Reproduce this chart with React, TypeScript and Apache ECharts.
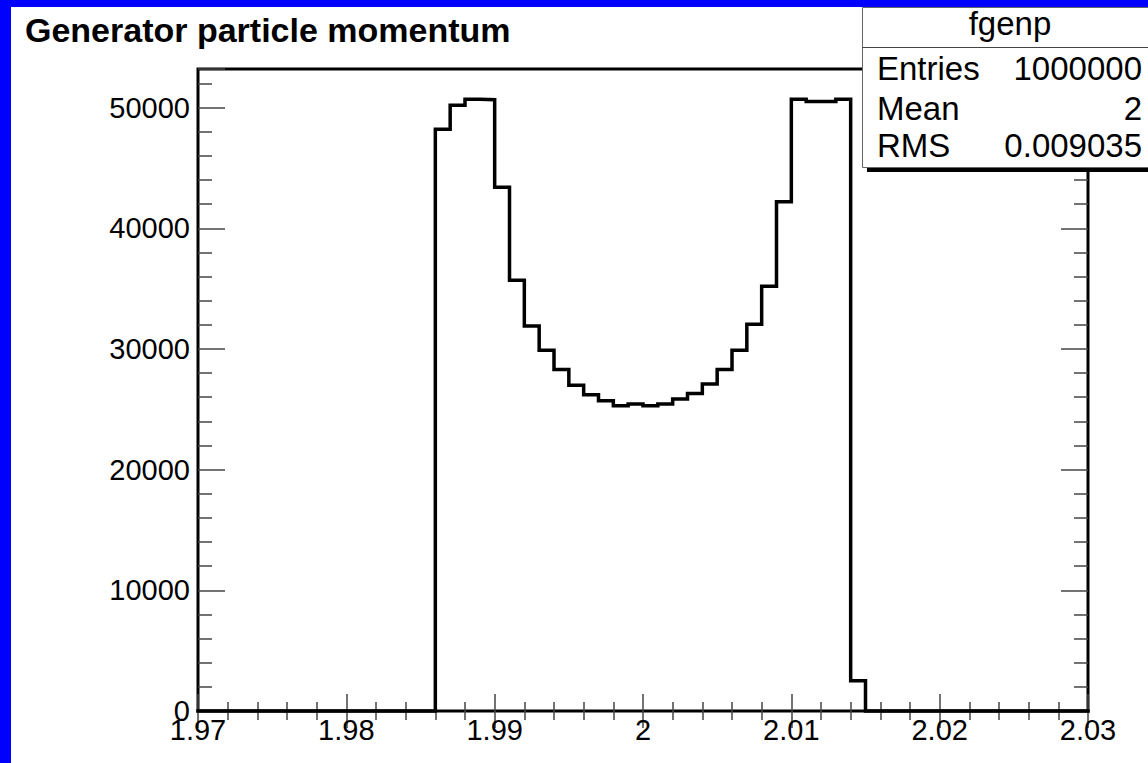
import React, { useEffect, useRef } from "react";
import * as echarts from "echarts";

// ---- data ----
const titleText = "Generator particle momentum";
const histName = "fgenp";
const xMin = 1.97;
const xMax = 2.03;
const binWidth = 0.001;
// 60 bins from 1.970 to 2.030 (entries per bin)
const counts = [
  0, 0, 0, 0, 0, 0, 0, 0, 0, 0,
  0, 0, 0, 0, 0, 0, 48200, 50200, 50700, 50650,
  43400, 35700, 31900, 29900, 28300, 27000, 26200, 25700, 25300, 25450,
  25300, 25450, 25850, 26300, 27100, 28300, 29900, 32050, 35200, 42200,
  50700, 50500, 50500, 50700, 2500, 0, 0, 0, 0, 0,
  0, 0, 0, 0, 0, 0, 0, 0, 0, 0,
];
const yMax = 53200;
const yInterval = 10000;
const xInterval = 0.01;
const statsLabels = ["Entries", "Mean", "RMS"];
const statsValues = ["1000000", "2", "0.009035"];

const FONT = "'Liberation Sans', Arial, sans-serif";

export default function App() {
  const ref = useRef<HTMLDivElement>(null);

  useEffect(() => {
    if (!ref.current) return;
    const chart = echarts.init(ref.current, undefined, { renderer: "svg" });

    const pts: number[][] = counts.map((c, i) => [xMin + i * binWidth, c]);
    pts.push([xMax, 0]);

    const tickStyle = { color: "#444", width: 1.5 };

    const xAxisBase = {
      type: "value",
      min: xMin,
      max: xMax,
      interval: xInterval,
      axisLine: { show: false },
      splitLine: { show: false },
      axisTick: { show: true, inside: true, length: 17, lineStyle: tickStyle },
      minorTick: { show: true, splitNumber: 5, length: 9, lineStyle: tickStyle },
    };
    const yAxisBase = {
      type: "value",
      min: 0,
      max: yMax,
      interval: yInterval,
      axisLine: { show: false },
      splitLine: { show: false },
      axisTick: { show: true, inside: true, length: 27, lineStyle: tickStyle },
      minorTick: { show: true, splitNumber: 5, length: 14, lineStyle: tickStyle },
    };

    const statsRows: any[] = [];
    const rowY = [68.5, 108.5, 145.5];
    statsLabels.forEach((lab, i) => {
      statsRows.push({
        type: "text",
        z: 103,
        x: 877,
        y: rowY[i],
        style: {
          text: lab,
          font: `33px ${FONT}`,
          fill: "#000",
          textAlign: "left",
          textVerticalAlign: "middle",
        },
      });
      statsRows.push({
        type: "text",
        z: 103,
        x: 1142,
        y: rowY[i],
        style: {
          text: statsValues[i],
          font: `33px ${FONT}`,
          fill: "#000",
          textAlign: "right",
          textVerticalAlign: "middle",
        },
      });
    });

    chart.setOption({
      animation: false,
      backgroundColor: "#ffffff",
      grid: {
        left: 198,
        top: 69,
        width: 890,
        height: 642,
        show: true,
        borderColor: "#000",
        borderWidth: 3,
        backgroundColor: "transparent",
      },
      xAxis: [
        {
          ...xAxisBase,
          position: "bottom",
          axisLabel: {
            show: true,
            margin: 4,
            fontSize: 29,
            fontFamily: FONT,
            color: "#000",
            formatter: (v: number) => String(+v.toFixed(2)),
          },
        },
        {
          ...xAxisBase,
          position: "top",
          axisLabel: { show: false },
        },
      ],
      yAxis: [
        {
          ...yAxisBase,
          position: "left",
          axisLabel: {
            show: true,
            margin: 8,
            fontSize: 29,
            fontFamily: FONT,
            color: "#000",
            formatter: (v: number) =>
              Math.round(v) % yInterval === 0 ? String(Math.round(v)) : "",
          },
        },
        {
          ...yAxisBase,
          position: "right",
          axisLabel: { show: false },
        },
      ],
      series: [
        {
          type: "line",
          xAxisIndex: 0,
          yAxisIndex: 0,
          step: "end",
          data: pts,
          symbol: "none",
          clip: false,
          lineStyle: { color: "#000", width: 3.5, join: "miter", cap: "square" },
          z: 5,
        },
      ],
      graphic: [
        { type: "rect", z: 110, shape: { x: 0, y: 0, width: 11, height: 763 }, style: { fill: "#0000ff" } },
        { type: "rect", z: 110, shape: { x: 0, y: 0, width: 1148, height: 7 }, style: { fill: "#0000ff" } },
        {
          type: "text",
          z: 103,
          x: 25,
          y: 29.5,
          style: {
            text: titleText,
            font: `bold 34px ${FONT}`,
            fill: "#000",
            textAlign: "left",
            textVerticalAlign: "middle",
          },
        },
        { type: "rect", z: 100, shape: { x: 867, y: 11, width: 300, height: 161 }, style: { fill: "#000" } },
        {
          type: "rect",
          z: 101,
          shape: { x: 862.5, y: 7.5, width: 300, height: 160 },
          style: { fill: "#fff", stroke: "#666", lineWidth: 1 },
        },
        {
          type: "line",
          z: 102,
          shape: { x1: 862.5, y1: 47.5, x2: 1148, y2: 47.5 },
          style: { stroke: "#444", lineWidth: 1 },
        },
        {
          type: "text",
          z: 103,
          x: 1010,
          y: 23.5,
          style: {
            text: histName,
            font: `33px ${FONT}`,
            fill: "#000",
            textAlign: "center",
            textVerticalAlign: "middle",
          },
        },
        ...statsRows,
      ],
    });

    return () => chart.dispose();
  }, []);

  return (
    <div
      ref={ref}
      style={{ position: "absolute", left: 0, top: 0, width: 1148, height: 763 }}
    />
  );
}
